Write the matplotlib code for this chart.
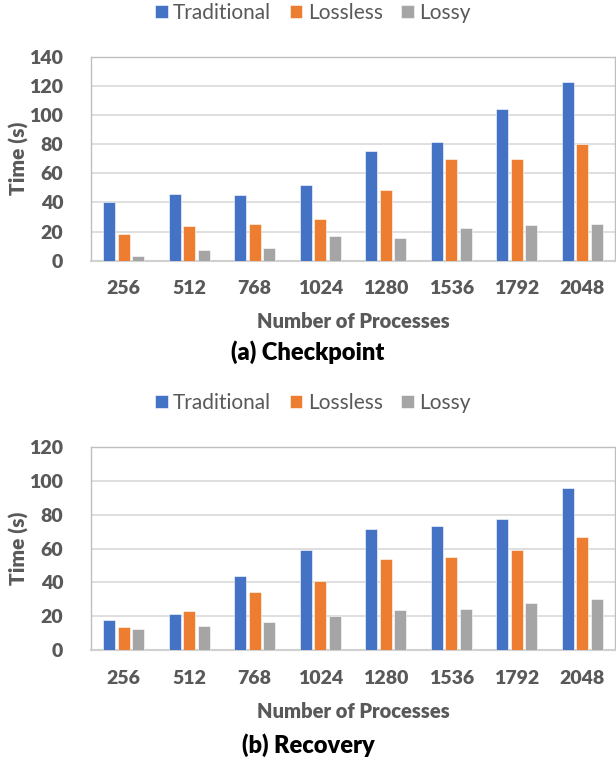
import matplotlib
matplotlib.use("Agg")
import matplotlib.pyplot as plt
import numpy as np

categories = ["256", "512", "768", "1024", "1280", "1536", "1792", "2048"]
series_names = ["Traditional", "Lossless", "Lossy"]

ckpt_traditional = [40, 45.6, 45.1, 52.2, 75, 81.7, 104.3, 122.4]
ckpt_lossless = [18.5, 24, 25, 28.6, 48.3, 69.6, 69.8, 80.3]
ckpt_lossy = [3, 7.1, 8.5, 16.7, 15.6, 22.2, 24.5, 25.2]

rec_traditional = [17.9, 21.2, 43.6, 59.1, 71.7, 73.5, 77.4, 95.9]
rec_lossless = [13.6, 23.2, 34.4, 40.9, 54.0, 55.0, 59.1, 66.6]
rec_lossy = [12.4, 14.3, 16.7, 20.0, 24.0, 24.4, 27.9, 30.1]

colors = ["#4472C4", "#ED7D31", "#A5A5A5"]
txt = "#595959"
FONT = "Lato"

W, H = 616, 763
fig = plt.figure(figsize=(W / 100, H / 100), dpi=100)


def panel(top_px, bottom_px, data, ymax, caption, legend_y, tick_y, label_y, cap_y):
    ax = fig.add_axes([91 / W, 1 - bottom_px / H, 524 / W, (bottom_px - top_px) / H])
    x = np.arange(len(categories))
    bw = 0.18
    offs = [-0.22, 0, 0.22]
    handles = []
    for vals, c, o, name in zip(data, colors, offs, series_names):
        h = ax.bar(x + o, vals, bw, color=c, edgecolor="white", linewidth=0.4, label=name, zorder=3)
        handles.append(h)
    ax.set_xlim(-0.5, len(categories) - 0.5)
    ax.set_ylim(0, ymax)
    ax.set_yticks(np.arange(0, ymax + 1, 20))
    ax.yaxis.grid(True, color="#D9D9D9", linewidth=1.2, zorder=0)
    ax.set_axisbelow(True)
    for s in ["top", "right", "left"]:
        ax.spines[s].set_color("#BFBFBF")
        ax.spines[s].set_linewidth(1.0)
    ax.spines["bottom"].set_color("#D0D0D0")
    ax.spines["bottom"].set_linewidth(1.5)
    ax.tick_params(axis="both", length=0, colors=txt, labelsize=14)
    ax.set_xticks(x)
    ax.set_xticklabels([])
    for lab in ax.get_yticklabels():
        lab.set_fontfamily(FONT)
        lab.set_fontweight("heavy")
    ax.tick_params(axis="y", pad=20)
    for xi, cat in zip(x, categories):
        xd = ax.transData.transform((xi, 0))[0]
        fig.text(xd / W, 1 - tick_y / H, cat, ha="center", va="center", fontsize=14,
                 fontweight="heavy", color=txt, family=FONT)
    fig.text(19 / W, 1 - (top_px + bottom_px) / 2 / H, "Time (s)", rotation=90, ha="center", va="center",
             fontsize=15, fontweight="heavy", color=txt, family=FONT)
    fig.text(353 / W, 1 - label_y / H, "Number of Processes", ha="center", va="center",
             fontsize=14.5, fontweight="heavy", color=txt, family=FONT)
    fig.text(308 / W, 1 - cap_y / H, caption, ha="center", va="center",
             fontsize=17, fontweight="heavy", color="black", family=FONT)
    fig.legend(handles=handles, labels=series_names, loc="center", bbox_to_anchor=(313 / W, 1 - legend_y / H),
               ncol=3, frameon=False, prop={"family": FONT, "size": 15}, labelcolor=txt,
               handlelength=0.6, handleheight=0.6, handletextpad=0.25, columnspacing=0.9)
    return ax


panel(56.7, 260.7, [ckpt_traditional, ckpt_lossless, ckpt_lossy], 140, "(a) Checkpoint",
      13, 288, 322, 352)
panel(446.7, 650.3, [rec_traditional, rec_lossless, rec_lossy], 120, "(b) Recovery",
      403, 678, 712, 745)

fig.savefig("out.png", dpi=100)
